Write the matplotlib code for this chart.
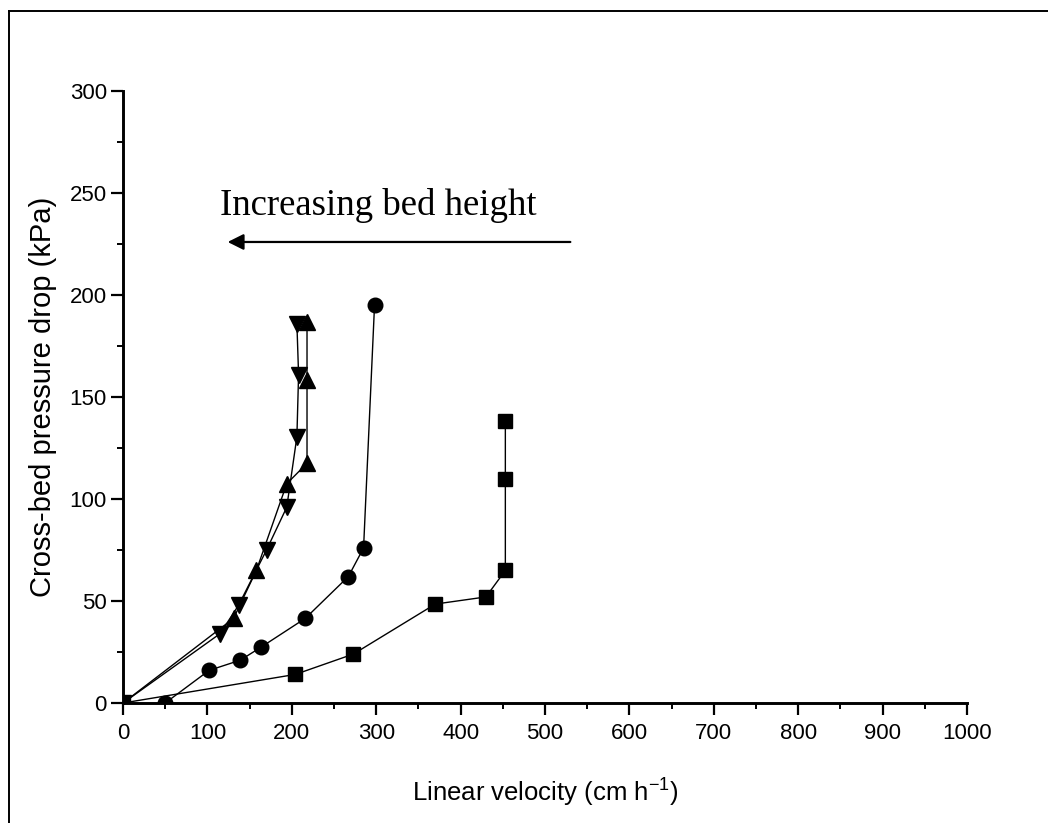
import matplotlib
matplotlib.use("Agg")
import matplotlib.pyplot as plt
from matplotlib.lines import Line2D

# Cross-bed pressure drop versus linear velocity for four bed heights
sq_x = [0, 204, 273, 370, 430, 453, 453, 453]
sq_y = [0, 14, 24, 48.5, 52, 65, 110, 138]

ci_x = [50, 102, 139, 164, 216, 267, 285, 298]
ci_y = [0, 16, 21, 27.5, 41.5, 62, 76, 195]

up_x = [0, 131, 158, 194, 218, 218, 218]
up_y = [0, 41.5, 65, 107.5, 117.5, 158.5, 187]

dn_x = [0, 115, 137, 170, 194, 206, 208, 206]
dn_y = [0, 34, 48, 75, 96, 130.5, 161, 186]

x_ticks = list(range(0, 1001, 100))
y_ticks = list(range(0, 301, 50))

plt.rcParams['font.family'] = ['Liberation Sans', 'DejaVu Sans']

fig = plt.figure(figsize=(10.48, 8.23), dpi=100)
ax = fig.add_axes([0.1174, 0.1458, 0.8053, 0.7436])

line_kw = dict(color='black', linewidth=1.0, markerfacecolor='black',
               markeredgecolor='black')
ax.plot(sq_x, sq_y, marker='s', markersize=9.5, **line_kw)
ax.plot(ci_x, ci_y, marker='o', markersize=10.5, **line_kw)
ax.plot(up_x, up_y, marker='^', markersize=12, **line_kw)
ax.plot(dn_x, dn_y, marker='v', markersize=12, **line_kw)

ax.set_xlim(0, 1000)
ax.set_ylim(0, 300)
ax.set_xticks(x_ticks)
ax.set_yticks(y_ticks)
ax.set_xticks(range(50, 1000, 100), minor=True)
ax.set_yticks(range(25, 300, 50), minor=True)
ax.tick_params(axis='both', which='major', direction='out', length=8.6,
               width=1.6, labelsize=16)
ax.tick_params(axis='x', which='major', pad=6)
ax.tick_params(axis='y', which='major', pad=3)
ax.tick_params(axis='both', which='minor', direction='out', length=4.3,
               width=1.4)

for side in ('top', 'right'):
    ax.spines[side].set_visible(False)
for side in ('left', 'bottom'):
    ax.spines[side].set_linewidth(2.1)

ax.set_xlabel('Linear velocity (cm h$^{\\mathregular{-1}}$)', fontsize=18.5,
              labelpad=22)
ax.set_ylabel('Cross-bed pressure drop (kPa)', fontsize=21, labelpad=9)

# Direction annotation
ax.annotate('', xy=(124, 226), xytext=(530, 226),
            arrowprops=dict(arrowstyle='-|>', color='black', lw=1.6,
                            mutation_scale=24, shrinkA=0, shrinkB=0))
ax.text(303, 244, 'Increasing bed height', ha='center', va='center',
        fontsize=26.5, family=['Liberation Serif', 'DejaVu Serif'])

# Border lines along the top and left of the figure
fig.add_artist(Line2D([9 / 1048, 1.0], [1 - 11 / 823, 1 - 11 / 823],
                      transform=fig.transFigure, color='black', lw=1.4))
fig.add_artist(Line2D([9 / 1048, 9 / 1048], [0.0, 1 - 11 / 823],
                      transform=fig.transFigure, color='black', lw=1.4))

fig.savefig('out.png', dpi=100)
